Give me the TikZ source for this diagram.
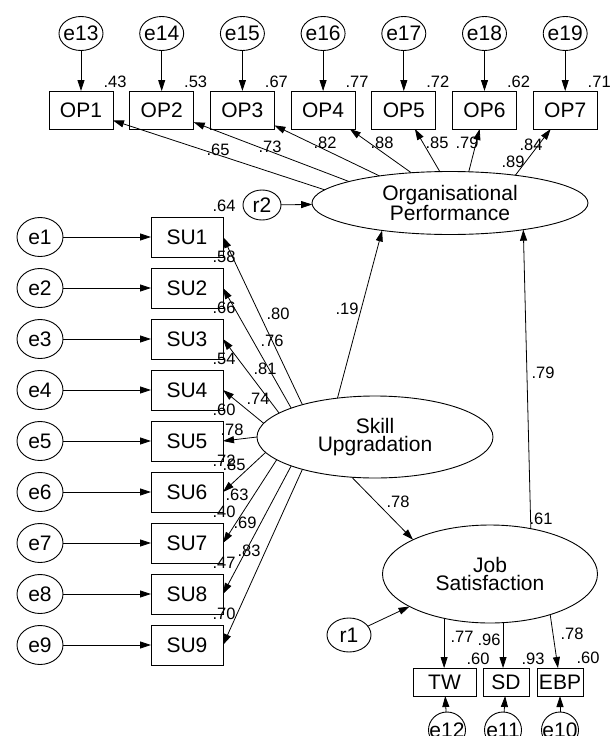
\documentclass[tikz,border=0pt]{standalone}
\usepackage{fontspec}
\setmainfont{Liberation Sans}
\usetikzlibrary{shapes.geometric,arrows.meta}
\begin{document}
\begin{tikzpicture}[x=1pt,y=-1pt,
  every node/.style={inner sep=0pt, outer sep=0pt},
  lat/.style={ellipse, draw, line width=0.9pt, align=center, font=\fontsize{21}{18.5}\selectfont},
  err/.style={ellipse, draw, line width=0.9pt, font=\fontsize{21}{24}\selectfont},
  obs/.style={rectangle, draw, line width=0.9pt, font=\fontsize{21}{24}\selectfont},
  num/.style={font=\fontsize{16.5}{18}\selectfont},
  arr/.style={-{Triangle[length=11pt,width=7pt]}, line width=0.8pt}
]
\useasboundingbox (0,0) rectangle (614,736);

% latent variables
\node[lat, minimum width=276pt, minimum height=63pt] (op) at (450,203) {Organisational\\Performance};
\node[lat, minimum width=236pt, minimum height=82pt] (skill) at (375,437) {Skill\\Upgradation};
\node[lat, minimum width=215pt, minimum height=98pt] (job) at (490,574) {Job\\Satisfaction};

% OP indicators
\foreach \i/\e/\x/\r in {1/13/81/.43, 2/14/161.7/.53, 3/15/242.4/.67, 4/16/323.1/.77, 5/17/403.8/.72, 6/18/484.5/.62, 7/19/565.2/.71} {
  \node[obs, minimum width=64pt, minimum height=38pt] (op\i) at (\x,110) {OP\i};
  \node[err, minimum width=44pt, minimum height=34pt] (e\e) at (\x,33.5) {\makebox[0pt]{e\e}};
  \node[num] at (\x+34,82) {\r};
  \draw[arr] (e\e) -- (op\i);
}
\foreach \i/\a in {1/174, 2/168, 3/159, 4/142, 5/108, 6/59, 7/23}
  \draw[arr] (op.\a) -- (op\i);
\foreach \l/\x/\y in {.65/218/150, .73/270/147, .82/325/143, .88/382/143, .85/437/143, .79/467/143, .84/531/145, .89/513/162}
  \node[num] at (\x,\y) {\l};

% r2
\node[err, minimum width=38pt, minimum height=30pt] (r2) at (262,205) {\makebox[0pt]{r2}};
\draw[arr] (r2) -- (op);

% SU indicators
\foreach \i/\r/\l/\lx/\ly/\a in {1/.64/.80/278/314/156, 2/.58/.76/272/341/161, 3/.66/.81/265/369/166, 4/.54/.74/258/399/173, 5/.60/.78/232/430/180, 6/.72/.85/234/465/188, 7/.40/.63/237/495/193, 8/.47/.69/245/523/199, 9/.70/.83/249/551/204} {
  \node[obs, minimum width=72pt, minimum height=40pt] (su\i) at (187,{237+51*(\i-1)}) {SU\i};
  \node[err, minimum width=46pt, minimum height=39pt] (e\i) at (40,{237+51*(\i-1)}) {\makebox[0pt]{e\i}};
  \draw[arr] (e\i) -- (su\i);
  \node[num] at (224,{206+51*(\i-1)}) {\r};
  \draw[arr] (skill.\a) -- (su\i.east);
  \node[num] at (\lx,\ly) {\l};
}

% structural paths
\draw[arr] (skill.134) -- (op.202);
\node[num] at (347,309) {.19};
\draw[arr] (job.48) -- (op.340);
\node[num] at (543,373) {.79};
\node[num] at (541,519) {.61};
\draw[arr] (skill.240) -- (job.156);
\node[num] at (398,502) {.78};

% r1
\node[err, minimum width=44pt, minimum height=34pt] (r1) at (349,635) {\makebox[0pt]{r1}};
\draw[arr] (r1) -- (job.202);

% Job Satisfaction indicators
\node[obs, minimum width=63pt, minimum height=28pt] (tw) at (444.5,682) {TW};
\node[obs, minimum width=46pt, minimum height=28pt] (sd) at (506,682) {SD};
\node[obs, minimum width=46pt, minimum height=28pt] (ebp) at (560,682) {EBP};
\draw[arr] (job.224) -- (job.224 |- tw.north);
\draw[arr] (job.285) -- (job.285 |- sd.north);
\draw[arr] (job.326) -- (ebp);
\foreach \l/\x/\y in {.77/462/637, .96/489/640, .78/572/634, .60/478/659, .93/533/659, .60/588/658}
  \node[num] at (\x,\y) {\l};

\node[err, minimum width=37pt, minimum height=36pt] (e12) at (447,730) {\makebox[0pt]{e12}};
\node[err, minimum width=37pt, minimum height=36pt] (e11) at (503,730) {\makebox[0pt]{e11}};
\node[err, minimum width=37pt, minimum height=36pt] (e10) at (560,730) {\makebox[0pt]{e10}};
\draw[arr] (e12) -- (tw);
\draw[arr] (e11) -- (sd);
\draw[arr] (e10) -- (ebp);
\end{tikzpicture}
\end{document}
